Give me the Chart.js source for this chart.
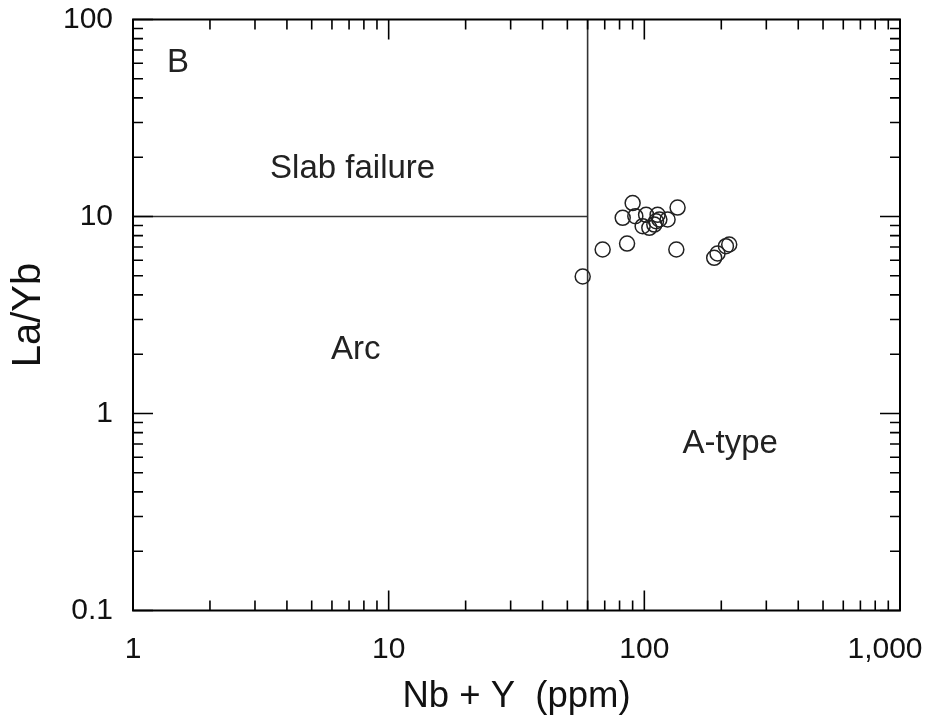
<!DOCTYPE html>
<html>
<head>
<meta charset="utf-8">
<script src="https://cdn.jsdelivr.net/npm/chart.js@4/dist/chart.umd.min.js"></script>
<style>
  html, body { margin: 0; padding: 0; background: #fff; }
  #wrap { width: 933px; height: 724px; }
</style>
</head>
<body>
<div id="wrap"><canvas id="c" width="933" height="724"></canvas></div>
<script>
// ---- data ----
const xTickValues = [1, 10, 100, 1000];
const xTickLabels = ['1', '10', '100', '1,000'];
const yTickValues = [0.1, 1, 10, 100];
const yTickLabels = ['0.1', '1', '10', '100'];

const sampleX = [57.4, 68.7, 85.6, 133.4, 82.3, 90.0, 92.2, 101.6, 112.7, 114.5, 111.1, 123.3, 134.9, 98.5, 104.6, 109.4, 187.6, 193.3, 208.5, 214.8];
const sampleY = [4.96, 6.80, 7.29, 6.80, 9.85, 11.7, 10.04, 10.2, 10.2, 9.66, 9.46, 9.66, 11.1, 8.93, 8.76, 9.1, 6.17, 6.49, 7.07, 7.21];

const boundaryHX = [1, 60];
const boundaryHY = [10, 10];
const boundaryVX = [60, 60];
const boundaryVY = [0.1, 100];

const fieldNames = ['Slab failure', 'Arc', 'A-type', 'B'];
const fieldX = [7.23, 7.43, 216.8, 1.5];
const fieldY = [17.5, 2.11, 0.705, 60.5];

const toPts = (xs, ys) => xs.map((x, i) => ({x: x, y: ys[i]}));

const FONT = "'Liberation Sans', Arial, Helvetica, sans-serif";

const framePlugin = {
  id: 'frameTicks',
  afterDatasetsDraw(chart) {
    const {ctx, chartArea: a, scales} = chart;
    const xs = scales.x, ys = scales.y;
    ctx.save();
    ctx.strokeStyle = '#000';
    ctx.lineWidth = 1.6;
    ctx.beginPath();
    for (let d = 0; d < 3; d++) {
      for (let m = 1; m <= 10; m++) {
        const v = Math.pow(10, d) * m;
        const px = xs.getPixelForValue(v);
        const len = (m === 1 || m === 10) ? 20 : 10;
        ctx.moveTo(px, a.bottom); ctx.lineTo(px, a.bottom - len);
        ctx.moveTo(px, a.top); ctx.lineTo(px, a.top + len);
      }
    }
    for (let d = -1; d < 2; d++) {
      for (let m = 1; m <= 10; m++) {
        const v = Math.pow(10, d) * m;
        const py = ys.getPixelForValue(v);
        const len = (m === 1 || m === 10) ? 20 : 10;
        ctx.moveTo(a.left, py); ctx.lineTo(a.left + len, py);
        ctx.moveTo(a.right, py); ctx.lineTo(a.right - len, py);
      }
    }
    ctx.stroke();
    ctx.lineWidth = 2;
    ctx.strokeRect(a.left, a.top, a.right - a.left, a.bottom - a.top);
    ctx.fillStyle = '#222';
    ctx.font = '33px ' + FONT;
    ctx.textAlign = 'center';
    ctx.textBaseline = 'middle';
    fieldNames.forEach((t, i) => {
      ctx.fillText(t, xs.getPixelForValue(fieldX[i]), ys.getPixelForValue(fieldY[i]));
    });
    ctx.restore();
  }
};

new Chart(document.getElementById('c'), {
  type: 'scatter',
  data: {
    datasets: [
      {
        label: 'samples',
        data: toPts(sampleX, sampleY),
        pointStyle: 'circle',
        pointRadius: 7.5,
        pointHoverRadius: 7.5,
        borderColor: '#222',
        borderWidth: 1.5,
        backgroundColor: 'rgba(0,0,0,0)'
      },
      {
        label: 'h',
        data: toPts(boundaryHX, boundaryHY),
        showLine: true,
        pointRadius: 0,
        borderColor: '#333',
        borderWidth: 1.6
      },
      {
        label: 'v',
        data: toPts(boundaryVX, boundaryVY),
        showLine: true,
        pointRadius: 0,
        borderColor: '#333',
        borderWidth: 1.6
      }
    ]
  },
  options: {
    responsive: false,
    animation: false,
    devicePixelRatio: 1,
    layout: { padding: { top: 19.5, right: 33, left: 0, bottom: 0 } },
    plugins: { legend: { display: false }, tooltip: { enabled: false } },
    scales: {
      x: {
        type: 'logarithmic',
        min: 1, max: 1000,
        grid: { display: false, drawTicks: false },
        border: { display: false },
        afterBuildTicks(s) { s.ticks = xTickValues.map(v => ({value: v, major: true})); },
        afterFit(s) { s.height = 113.5; s.paddingLeft = 0; s.paddingRight = 0; },
        ticks: {
          color: '#111',
          padding: 21,
          maxRotation: 0,
          autoSkip: false,
          font: { family: FONT, size: 30 },
          callback: (v, i) => i === xTickLabels.length - 1 ? xTickLabels[i] + '\u2003' : xTickLabels[i]
        },
        title: {
          display: true,
          text: 'Nb + Y  (ppm)',
          color: '#111',
          font: { family: FONT, size: 36.5 },
          padding: { top: 0, bottom: 5 }
        }
      },
      y: {
        type: 'logarithmic',
        min: 0.1, max: 100,
        grid: { display: false, drawTicks: false },
        border: { display: false },
        afterBuildTicks(s) { s.ticks = yTickValues.map(v => ({value: v, major: true})); },
        afterFit(s) { s.width = 133; s.paddingTop = 0; s.paddingBottom = 0; },
        ticks: {
          color: '#111',
          padding: 20,
          autoSkip: false,
          font: { family: FONT, size: 30 },
          callback: (v, i) => yTickLabels[i]
        },
        title: {
          display: true,
          text: 'La/Yb',
          color: '#111',
          font: { family: FONT, size: 40 },
          padding: { top: 5, bottom: 0 }
        }
      }
    }
  },
  plugins: [framePlugin]
});
</script>
</body>
</html>
